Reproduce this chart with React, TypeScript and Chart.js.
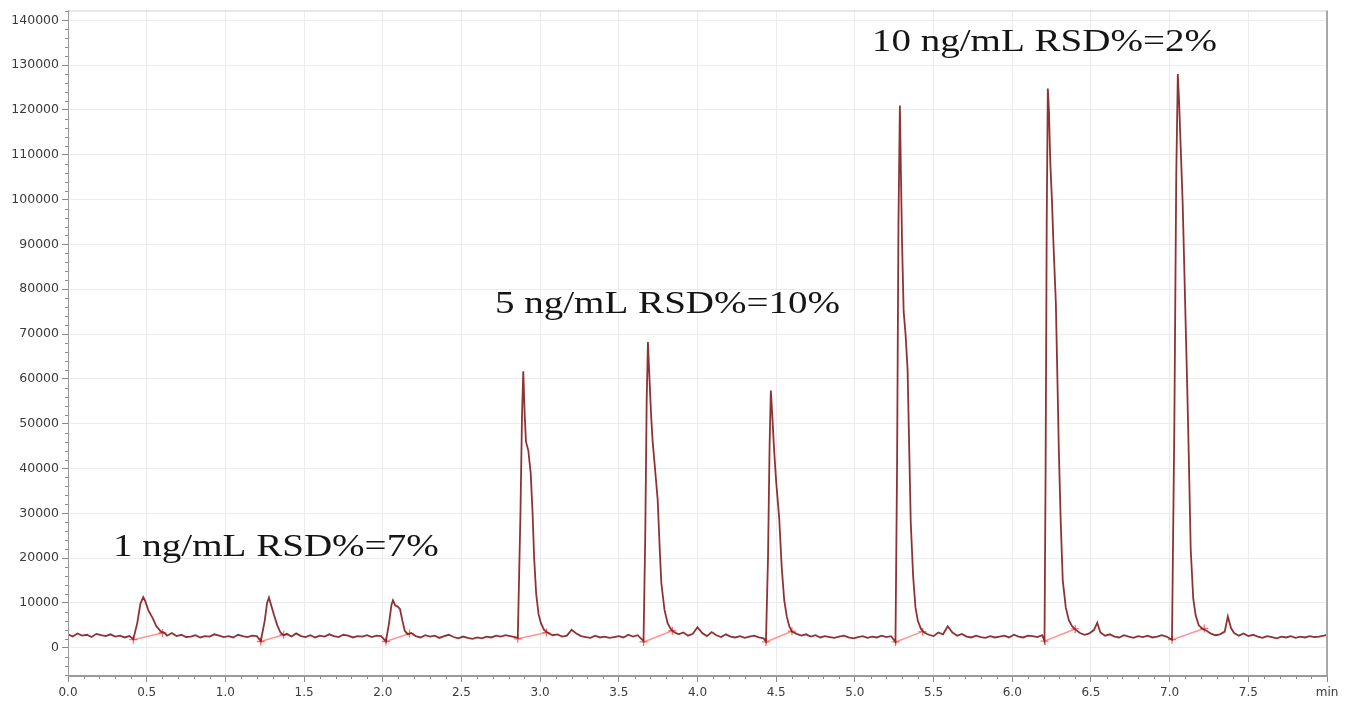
import React, { useEffect, useRef } from 'react';
import { Chart, registerables } from 'chart.js';

Chart.register(...registerables);

// Retention time (min)
const time: number[] = [
  0.00, 0.03, 0.06, 0.09, 0.12, 0.15, 0.18, 0.21, 0.24, 0.27, 0.30, 0.33, 0.36, 0.39, 0.415,
  0.44, 0.46, 0.478, 0.49, 0.51, 0.538, 0.56, 0.59, 0.61, 0.63,
  0.66, 0.69, 0.72, 0.75, 0.78, 0.81, 0.84, 0.87, 0.90, 0.93, 0.96, 0.99, 1.02, 1.05, 1.08, 1.11, 1.14, 1.17, 1.20, 1.225,
  1.25, 1.265, 1.277, 1.29, 1.31, 1.33, 1.35, 1.37, 1.39,
  1.42, 1.45, 1.48, 1.51, 1.54, 1.57, 1.60, 1.63, 1.66, 1.69, 1.72, 1.75, 1.78, 1.81, 1.84, 1.87, 1.90, 1.93, 1.96, 1.99, 2.02,
  2.04, 2.055, 2.065, 2.08, 2.095, 2.11, 2.125, 2.14, 2.16, 2.18,
  2.21, 2.24, 2.27, 2.30, 2.33, 2.36, 2.39, 2.42, 2.45, 2.48, 2.51, 2.54, 2.57, 2.60, 2.63, 2.66, 2.69, 2.72, 2.75, 2.78, 2.81, 2.84, 2.858,
  2.875, 2.885, 2.893, 2.902, 2.91, 2.925, 2.94, 2.952, 2.962, 2.975, 2.99, 3.005, 3.025, 3.05,
  3.08, 3.11, 3.14, 3.17, 3.20, 3.23, 3.26, 3.29, 3.32, 3.35, 3.38, 3.41, 3.44, 3.47, 3.50, 3.53, 3.56, 3.59, 3.62, 3.657,
  3.668, 3.677, 3.685, 3.695, 3.705, 3.715, 3.73, 3.747, 3.76, 3.77, 3.79, 3.81, 3.83, 3.85,
  3.88, 3.91, 3.94, 3.97, 4.00, 4.03, 4.06, 4.09, 4.12, 4.15, 4.18, 4.21, 4.24, 4.27, 4.30, 4.33, 4.36, 4.39, 4.42, 4.435,
  4.448, 4.458, 4.466, 4.475, 4.487, 4.50, 4.519, 4.535, 4.551, 4.567, 4.583, 4.60,
  4.63, 4.66, 4.69, 4.72, 4.75, 4.78, 4.81, 4.84, 4.87, 4.90, 4.93, 4.96, 4.99, 5.02, 5.05, 5.08, 5.11, 5.14, 5.17, 5.20, 5.23, 5.258,
  5.268, 5.277, 5.286, 5.293, 5.30, 5.31, 5.322, 5.335, 5.345, 5.355, 5.37, 5.385, 5.40, 5.42, 5.44,
  5.47, 5.50, 5.53, 5.56, 5.59, 5.62, 5.65, 5.68, 5.71, 5.74, 5.77, 5.80, 5.83, 5.86, 5.89, 5.92, 5.95, 5.98, 6.01, 6.04, 6.07, 6.10, 6.13, 6.16, 6.19, 6.205,
  6.212, 6.219, 6.226, 6.233, 6.242, 6.252, 6.262, 6.277, 6.287, 6.296, 6.308, 6.321, 6.34, 6.359, 6.38, 6.404,
  6.43, 6.46, 6.49, 6.52, 6.54, 6.56, 6.59, 6.62, 6.65, 6.68, 6.71, 6.74, 6.77, 6.80, 6.83, 6.86, 6.89, 6.92, 6.95, 6.98, 7.015,
  7.03, 7.042, 7.052, 7.06, 7.07, 7.083, 7.093, 7.102, 7.112, 7.121, 7.134, 7.15, 7.165, 7.185, 7.21, 7.235,
  7.26, 7.29, 7.32, 7.35, 7.37, 7.39, 7.41, 7.44, 7.47, 7.50, 7.53, 7.56, 7.59, 7.62, 7.65, 7.68, 7.71, 7.74, 7.77, 7.80, 7.83, 7.86, 7.89, 7.92, 7.95, 7.98, 8.00,
];

// Detector response
const signal: number[] = [
  3000, 2500, 3200, 2700, 2900, 2400, 3100, 2800, 2600, 3000, 2500, 2700, 2300, 2600, 1900,
  5500, 9800, 11300, 10500, 8400, 6600, 4900, 3600, 3400, 2700,
  3300, 2600, 2900, 2400, 2500, 2800, 2300, 2600, 2500, 3000, 2700, 2400, 2600, 2300, 2900, 2600, 2400, 2700, 2600, 1500,
  6000, 10000, 11200, 9600, 7200, 5000, 3400, 2800, 3100,
  2500, 3200, 2600, 2400, 2800, 2300, 2700, 2500, 3000, 2600, 2400, 2900, 2700, 2300, 2600, 2500, 2800, 2400, 2700, 2600, 1400,
  5500, 9500, 10600, 9400, 9200, 8600, 6000, 3800, 3000, 3300,
  2600, 2300, 2800, 2500, 2700, 2200, 2600, 2900, 2400, 2100, 2500, 2200, 2000, 2300, 2100, 2500, 2300, 2700, 2500, 2800, 2600, 2400, 2200,
  30000, 52000, 61700, 52000, 46000, 44000, 39000, 30000, 20000, 12000, 7500, 5500, 4000, 3300,
  2800, 3000, 2500, 2700, 4000, 3200, 2600, 2400, 2200, 2700, 2300, 2500, 2200, 2400, 2600, 2300, 2900, 2500, 2800, 1500,
  25000, 55000, 68200, 60000, 52000, 46000, 40000, 33000, 22000, 14500, 8500, 5500, 4200, 3500,
  3000, 3400, 2700, 3100, 4600, 3300, 2600, 3500, 2800, 2400, 3000, 2500, 2300, 2600, 2200, 2500, 2700, 2300, 2100, 1400,
  20000, 45000, 57400, 52000, 44000, 37000, 29000, 18000, 10600, 7000, 4800, 3600,
  3100, 2700, 3000, 2500, 2800, 2300, 2600, 2400, 2200, 2500, 2700, 2300, 2100, 2400, 2600, 2200, 2500, 2300, 2700, 2400, 2600, 1300,
  40000, 95000, 121000, 105000, 90000, 75000, 70000, 62000, 45000, 28000, 16000, 9000, 6000, 4200, 3400,
  2900, 2600, 3400, 3000, 4800, 3400, 2700, 3100, 2500, 2300, 2700, 2400, 2200, 2600, 2300, 2500, 2700, 2300, 2900, 2500, 2300, 2700, 2600, 2400, 2800, 1500,
  40000, 95000, 124800, 120000, 108000, 100000, 90000, 77000, 60000, 44000, 28000, 15000, 9000, 6200, 4800, 4000,
  3300, 2900, 3200, 4000, 5600, 3400, 2700, 3000, 2500, 2300, 2800, 2500, 2200, 2600, 2400, 2700, 2300, 2500, 2800, 2500, 1800,
  50000, 105000, 128000, 122000, 112000, 99000, 85000, 72000, 58000, 44000, 22000, 11000, 7300, 5000, 4200, 3800,
  3200, 2800, 3000, 3600, 7000, 4400, 3300, 2700, 3200, 2600, 2900, 2500, 2200, 2600, 2400, 2100, 2500, 2300, 2600, 2200, 2500, 2300, 2600, 2400, 2500, 2700, 2900,
];

// Integration baselines (peak start / end)
const integStartTime = [0.415, 1.225, 2.02, 2.858, 3.657, 4.435, 5.258, 6.205, 7.015];
const integStartValue = [1800, 1400, 1400, 2000, 1300, 1300, 1300, 1500, 1800];
const integEndTime = [0.60, 1.37, 2.17, 3.04, 3.84, 4.60, 5.43, 6.40, 7.22];
const integEndValue = [3300, 2900, 3200, 3400, 3800, 3700, 3600, 4200, 4300];

const yTicks = [0, 10000, 20000, 30000, 40000, 50000, 60000, 70000, 80000, 90000, 100000, 110000, 120000, 130000, 140000];
const xTicks = [0, 0.5, 1, 1.5, 2, 2.5, 3, 3.5, 4, 4.5, 5, 5.5, 6, 6.5, 7, 7.5, 8];
const xTickLabels = ['0.0', '0.5', '1.0', '1.5', '2.0', '2.5', '3.0', '3.5', '4.0', '4.5', '5.0', '5.5', '6.0', '6.5', '7.0', '7.5', 'min'];

const annotationTexts = ['1 ng/mL RSD%=7%', '5 ng/mL RSD%=10%', '10 ng/mL RSD%=2%'];
const annotationTime = [0.286, 2.713, 5.108];
const annotationValue = [20500, 74800, 133200];

const Y_MIN = -6300;
const Y_MAX = 142200;

const extrasPlugin = {
  id: 'extras',
  afterDraw(chart: any) {
    const { ctx, chartArea: a, scales } = chart;
    const xs = scales.x;
    const ys = scales.y;
    ctx.save();
    // minor ticks
    ctx.strokeStyle = '#8a8a8a';
    ctx.lineWidth = 1;
    ctx.beginPath();
    for (let i = 1; i < 80; i++) {
      if (i % 5 === 0) continue;
      const px = Math.round(xs.getPixelForValue(i / 10)) + 0.5;
      ctx.moveTo(px, a.bottom);
      ctx.lineTo(px, a.bottom + 3);
    }
    for (let v = -6000; v <= 142000; v += 2000) {
      if (v % 10000 === 0) continue;
      const py = Math.round(ys.getPixelForValue(v)) + 0.5;
      ctx.moveTo(a.left - 3, py);
      ctx.lineTo(a.left, py);
    }
    ctx.stroke();

    // frame
    ctx.strokeStyle = '#cfcfcf';
    ctx.lineWidth = 1;
    ctx.beginPath();
    ctx.moveTo(a.left, a.top + 0.5);
    ctx.lineTo(a.right, a.top + 0.5);
    ctx.stroke();
    ctx.strokeStyle = '#a8a8a8';
    ctx.lineWidth = 2;
    ctx.beginPath();
    ctx.moveTo(a.right, a.top);
    ctx.lineTo(a.right, a.bottom);
    ctx.stroke();
    ctx.strokeStyle = '#9a9a9a';
    ctx.lineWidth = 2;
    ctx.beginPath();
    ctx.moveTo(a.left, a.bottom);
    ctx.lineTo(a.right + 1, a.bottom);
    ctx.stroke();
    ctx.lineWidth = 1;
    ctx.beginPath();
    ctx.moveTo(a.left + 0.5, a.top);
    ctx.lineTo(a.left + 0.5, a.bottom);
    ctx.stroke();

    // annotations (stretched serif text)
    ctx.fillStyle = '#151515';
    ctx.font = '32px "Liberation Serif", "Times New Roman", serif';
    ctx.textBaseline = 'alphabetic';
    ctx.textAlign = 'left';
    for (let i = 0; i < annotationTexts.length; i++) {
      const px = xs.getPixelForValue(annotationTime[i]);
      const py = ys.getPixelForValue(annotationValue[i]);
      ctx.save();
      ctx.translate(px, py);
      ctx.scale(1.22, 1);
      ctx.fillText(annotationTexts[i], 0, 0);
      ctx.restore();
    }
    ctx.restore();
  },
};

export default function App() {
  const canvasRef = useRef<HTMLCanvasElement | null>(null);

  useEffect(() => {
    if (!canvasRef.current) return;
    const traceData = time.map((t, i) => ({ x: t, y: signal[i] }));
    const integData: any[] = [];
    for (let i = 0; i < integStartTime.length; i++) {
      integData.push({ x: integStartTime[i], y: integStartValue[i] });
      integData.push({ x: integEndTime[i], y: integEndValue[i] });
      integData.push({ x: (integEndTime[i] + (integStartTime[i + 1] ?? 8)) / 2, y: null });
    }

    const chart = new Chart(canvasRef.current, {
      type: 'line',
      data: {
        datasets: [
          {
            label: 'trace',
            data: traceData,
            borderColor: 'rgba(130,28,30,0.9)',
            borderWidth: 1.8,
            pointRadius: 0,
            tension: 0,
            order: 0,
          },
          {
            label: 'baseline',
            data: integData,
            borderColor: 'rgba(255,115,115,0.75)',
            borderWidth: 1.5,
            pointStyle: 'cross',
            pointRadius: (c: any) => (c.raw && c.raw.y != null ? 4 : 0),
            pointBorderColor: 'rgba(240,80,80,0.8)',
            pointBorderWidth: 1.3,
            spanGaps: false,
            tension: 0,
            order: 1,
          },
        ],
      },
      options: {
        animation: false,
        responsive: true,
        maintainAspectRatio: false,
        layout: { padding: { top: 6, right: 18, bottom: 0, left: 0 } },
        plugins: { legend: { display: false }, tooltip: { enabled: false } },
        scales: {
          x: {
            type: 'linear',
            min: 0,
            max: 8,
            afterBuildTicks: (s: any) => {
              s.ticks = xTicks.map((v) => ({ value: v }));
            },
            afterFit: (s: any) => {
              s.height = 30;
            },
            ticks: {
              autoSkip: false,
              maxRotation: 0,
              padding: 4,
              color: '#3a3a3a',
              font: { family: '"DejaVu Sans", sans-serif', size: 12 },
              callback: (v: any) => {
                const idx = xTicks.indexOf(Number(v));
                return idx >= 0 ? xTickLabels[idx] : '';
              },
            },
            grid: {
              color: (c: any) => (c.tick && c.tick.value > 0 && c.tick.value < 8 ? '#ececec' : 'rgba(0,0,0,0)'),
              tickColor: '#8a8a8a',
              tickLength: 6,
              lineWidth: 1,
            },
            border: { display: false },
          },
          y: {
            type: 'linear',
            min: Y_MIN,
            max: Y_MAX,
            afterBuildTicks: (s: any) => {
              s.ticks = yTicks.map((v) => ({ value: v }));
            },
            afterFit: (s: any) => {
              s.width = 68;
            },
            ticks: {
              autoSkip: false,
              padding: 3,
              color: '#3a3a3a',
              font: { family: '"DejaVu Sans", sans-serif', size: 12.5 },
              callback: (v: any) => String(v),
            },
            grid: {
              color: '#ececec',
              tickColor: '#8a8a8a',
              tickLength: 6,
              lineWidth: 1,
            },
            border: { display: false },
          },
        },
      },
      plugins: [extrasPlugin],
    });
    return () => chart.destroy();
  }, []);

  return (
    <div style={{ position: 'fixed', left: 0, top: 0, width: 1345, height: 706, background: '#fff' }}>
      <canvas ref={canvasRef} />
    </div>
  );
}
